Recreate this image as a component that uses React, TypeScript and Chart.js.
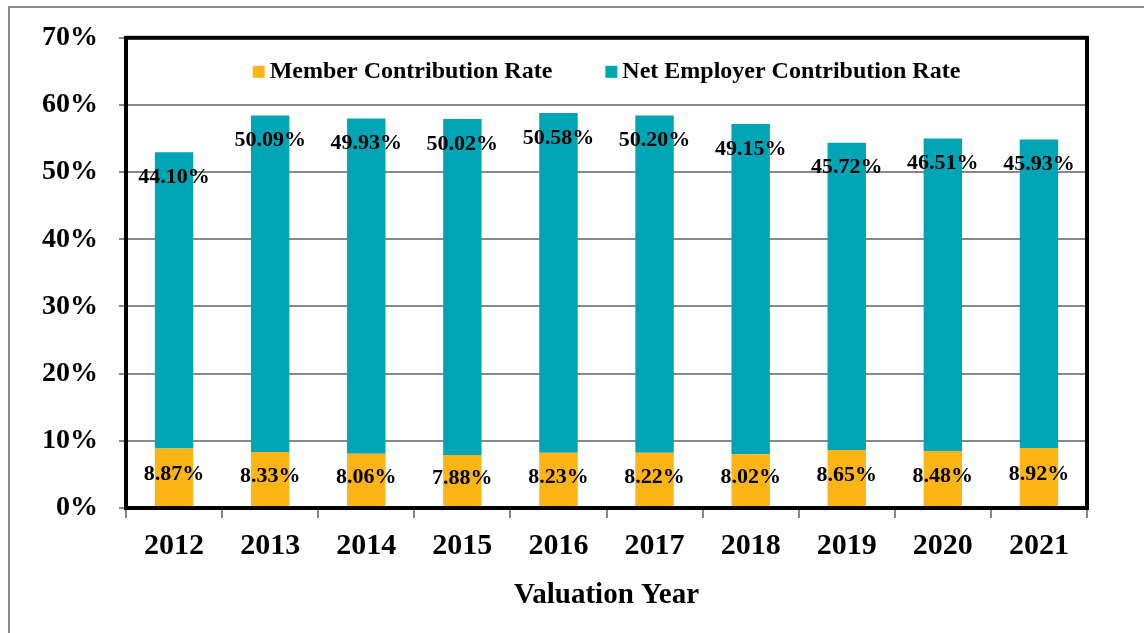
import React, { useEffect, useRef } from "react";
import { Chart, registerables } from "chart.js";

Chart.register(...registerables);

const years = ["2012", "2013", "2014", "2015", "2016", "2017", "2018", "2019", "2020", "2021"];
const memberRate = [8.87, 8.33, 8.06, 7.88, 8.23, 8.22, 8.02, 8.65, 8.48, 8.92];
const employerRate = [44.1, 50.09, 49.93, 50.02, 50.58, 50.2, 49.15, 45.72, 46.51, 45.93];
const seriesNames = ["Member Contribution Rate", "Net Employer Contribution Rate"];
const yTicks = [0, 10, 20, 30, 40, 50, 60, 70];

const SERIF = '"Liberation Serif", "Times New Roman", serif';
const ORANGE = "#FDB515";
const TEAL = "#00A5B5";

const labelPlugin = {
  id: "barLabels",
  afterDatasetsDraw(chart: any) {
    const ctx = chart.ctx;
    ctx.save();
    ctx.font = `bold 22px ${SERIF}`;
    ctx.fillStyle = "#000";
    ctx.textAlign = "center";
    ctx.textBaseline = "middle";
    chart.data.datasets.forEach((ds: any, di: number) => {
      const meta = chart.getDatasetMeta(di);
      meta.data.forEach((el: any, i: number) => {
        const v = ds.data[i];
        const txt = v.toFixed(2) + "%";
        const y = di === 0 ? (el.y + el.base) / 2 - 3 : el.y + 25;
        ctx.fillText(txt, el.x, y);
      });
    });
    ctx.restore();
  },
};

const legendPlugin = {
  id: "innerLegend",
  afterDraw(chart: any) {
    const ctx = chart.ctx;
    const area = chart.chartArea;
    ctx.save();
    ctx.font = `bold 24px ${SERIF}`;
    const sq = 12;
    const gapSq = 5;
    const gapItems = 53;
    const items = chart.data.datasets.map((ds: any) => ({
      label: ds.label,
      color: ds.backgroundColor,
      w: ctx.measureText(ds.label).width,
    }));
    let total = 0;
    items.forEach((it: any, i: number) => {
      total += sq + gapSq + it.w + (i < items.length - 1 ? gapItems : 0);
    });
    let x = (area.left + area.right) / 2 - total / 2;
    const baseline = area.top + 40;
    items.forEach((it: any) => {
      ctx.fillStyle = it.color;
      ctx.fillRect(x, baseline - 12, sq, sq);
      x += sq + gapSq;
      ctx.fillStyle = "#000";
      ctx.textAlign = "left";
      ctx.textBaseline = "alphabetic";
      ctx.fillText(it.label, x, baseline);
      x += it.w + gapItems;
    });
    // plot frame
    ctx.strokeStyle = "#000";
    ctx.lineWidth = 4;
    ctx.strokeRect(area.left, area.top, area.right - area.left, area.bottom - area.top);
    ctx.restore();
  },
};

export default function App() {
  const ref = useRef<HTMLCanvasElement>(null);
  useEffect(() => {
    if (!ref.current) return;
    const chart = new Chart(ref.current, {
      type: "bar",
      data: {
        labels: years,
        datasets: [
          {
            label: seriesNames[0],
            data: memberRate,
            backgroundColor: ORANGE,
            barPercentage: 0.4,
            categoryPercentage: 1,
          },
          {
            label: seriesNames[1],
            data: employerRate,
            backgroundColor: TEAL,
            barPercentage: 0.4,
            categoryPercentage: 1,
          },
        ],
      },
      options: {
        responsive: false,
        animation: false,
        devicePixelRatio: 1,
        layout: { padding: { left: 0, top: 37, right: 57, bottom: 0 } },
        plugins: {
          legend: { display: false },
          tooltip: { enabled: false },
        },
        scales: {
          x: {
            stacked: true,
            border: { display: false },
            grid: {
              offset: true,
              drawOnChartArea: false,
              drawTicks: true,
              tickLength: 10,
              color: "#888",
              lineWidth: 2,
            },
            ticks: {
              color: "#000",
              font: { family: SERIF, size: 30, weight: "bold" },
              padding: 10,
              maxRotation: 0,
            },
            title: {
              display: true,
              text: "Valuation Year",
              color: "#000",
              font: { family: SERIF, size: 29, weight: "bold" },
              padding: { top: 0, bottom: 20 },
            },
            afterFit(scale: any) {
              scale.height = 125;
            },
          },
          y: {
            stacked: true,
            min: 0,
            max: 70,
            border: { display: false },
            afterBuildTicks(scale: any) {
              scale.ticks = yTicks.map((v) => ({ value: v }));
            },
            grid: {
              color: "#888",
              lineWidth: 2,
              tickLength: 7,
            },
            ticks: {
              color: "#000",
              font: { family: SERIF, size: 28, weight: "bold" },
              padding: 21,
              callback: (v: any) => v + "%",
            },
            afterFit(scale: any) {
              scale.width = 126;
            },
          },
        },
      },
      plugins: [labelPlugin, legendPlugin],
    });
    return () => chart.destroy();
  }, []);

  return (
    <div>
      <div
        style={{
          position: "fixed",
          left: 8,
          top: 6,
          width: 1300,
          height: 800,
          border: "2px solid #8a8a8a",
          boxSizing: "border-box",
        }}
      />
      <canvas
        ref={ref}
        width={1144}
        height={633}
        style={{ position: "fixed", left: 0, top: 0, width: 1144, height: 633, display: "block" }}
      />
    </div>
  );
}
